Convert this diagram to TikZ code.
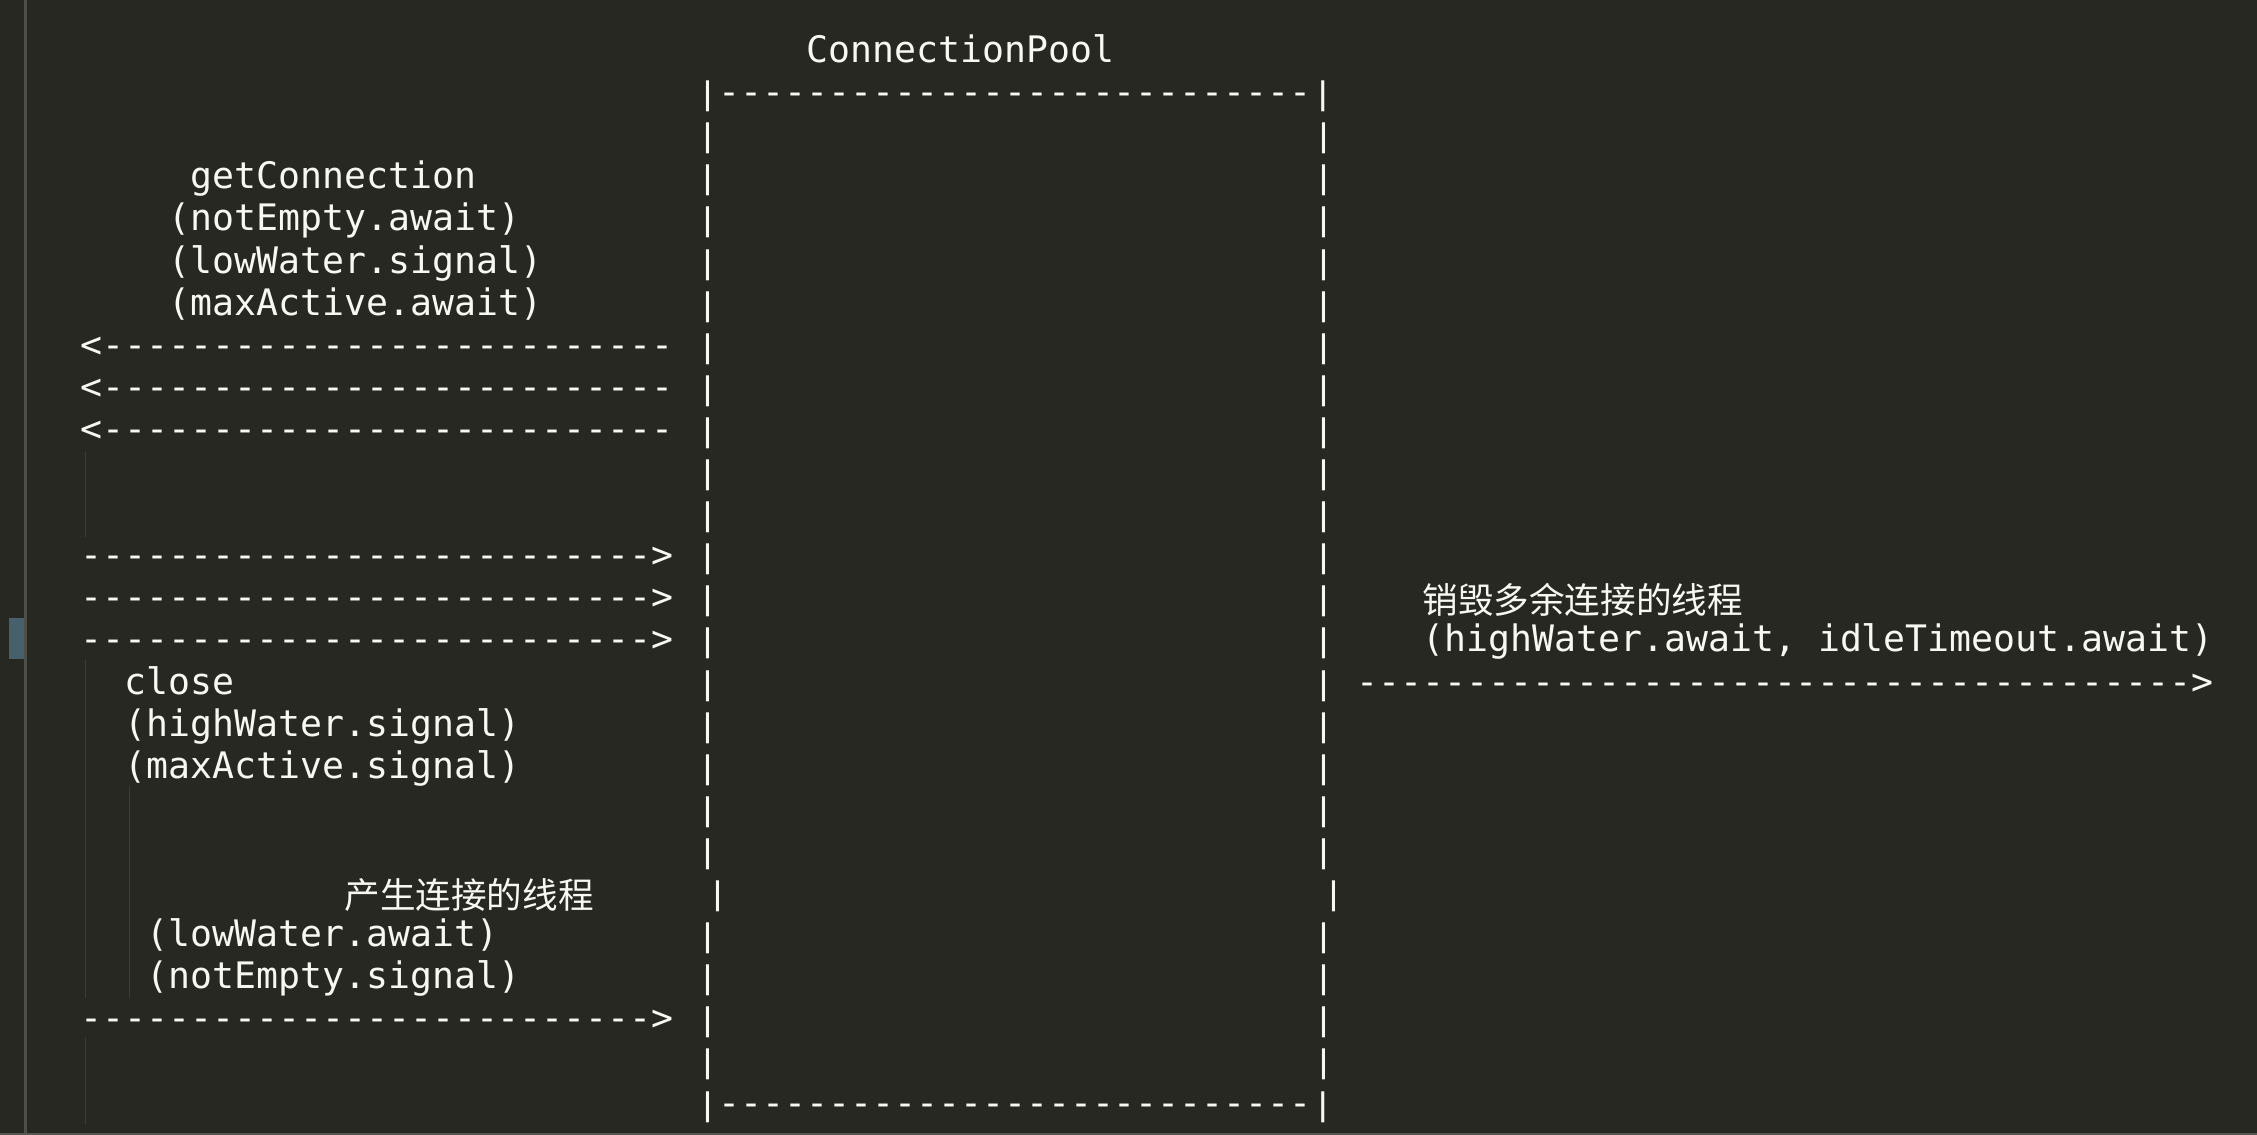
\documentclass[tikz,border=0pt]{standalone}
\usepackage{fontspec}
\setmonofont{DejaVu Sans Mono}
\newfontfamily\cjk[Scale=0.975]{Noto Sans CJK SC}
\usepackage{graphicx}
\usepackage{xcolor}
\usepackage{tikz}
\usetikzlibrary{positioning}

\definecolor{editorbg}{HTML}{272822}
\definecolor{ink}{HTML}{F8F8F2}
\definecolor{gutter}{HTML}{4E4F46}
\definecolor{guide}{HTML}{3B3C35}
\definecolor{marker}{HTML}{46606C}
\definecolor{statusbar}{HTML}{55564F}

% column / baseline of the character grid (1 unit = 1 px of the screenshot)
\newcommand\colx[1]{80.5+22*#1}
\newcommand\rowy[1]{62.5+42.1*#1}
\newcommand\dashrun[1]{\foreach \i in {1,...,#1}{-}}
\newcommand\vbar{\scalebox{1}[0.85]{|}}

\begin{document}
\begin{tikzpicture}[
  x=1pt, y=-1pt,
  ascii/.style={anchor=base west,inner sep=0pt,outer sep=0pt,text=ink,
    font=\ttfamily\fontsize{36.5}{42}\selectfont},
  cjktext/.style={ascii,font=\cjk\fontsize{36.5}{42}\selectfont,yshift=-4pt},
  guideline/.style={guide,line width=1.5pt}
]
\useasboundingbox (0,0) rectangle (2257,1135);
\fill[editorbg] (0,0) rectangle (2257,1135);

% editor chrome
\fill[gutter] (24,0) rectangle (27,1133);
\fill[marker] (9,618) rectangle (24,659);
\fill[statusbar] (0,1133) rectangle (2257,1135);
\draw[guideline] (85.5,452) -- (85.5,537);
\draw[guideline] (85.5,660) -- (85.5,998);
\draw[guideline] (129.5,786) -- (129.5,998);
\draw[guideline] (85.5,1037) -- (85.5,1124);

% the pool
\node[ascii] (title) at ({\colx{33}},{\rowy{0}}) {ConnectionPool};
\node[ascii] (pooltop) at ({\colx{28}},{\rowy{1}}) {\vbar\dashrun{27}\vbar};
\node[ascii] (poolbot) at ({\colx{28}},{\rowy{25}}) {\vbar\dashrun{27}\vbar};
\foreach \r in {2,...,19,21,22,23,24} {
  \node[ascii] (lbar\r) at ({\colx{28}},{\rowy{\r}}) {\vbar};
  \node[ascii] (rbar\r) at ({\colx{56}},{\rowy{\r}}) {\vbar};
}
\node[ascii] (lbar20) at ({\colx{28}+10},{\rowy{20}}) {\vbar};
\node[ascii] (rbar20) at ({\colx{56}+10},{\rowy{20}}) {\vbar};

% getConnection
\node[ascii] (getconn) at ({\colx{5}},{\rowy{3}}) {getConnection};
\node[ascii] (getwait) at ({\colx{4}},{\rowy{4}}) {(notEmpty.await)};
\node[ascii] (getlow) at ({\colx{4}},{\rowy{5}}) {(lowWater.signal)};
\node[ascii] (getmax) at ({\colx{4}},{\rowy{6}}) {(maxActive.await)};
\foreach \r in {7,8,9}
  \node[ascii] (getarrow\r) at ({\colx{0}},{\rowy{\r}}) {<\dashrun{26}};

% close
\foreach \r in {12,13,14}
  \node[ascii] (closearrow\r) at ({\colx{0}},{\rowy{\r}}) {\dashrun{26}>};
\node[ascii] (close) at ({\colx{2}},{\rowy{15}}) {close};
\node[ascii] (closehigh) at ({\colx{2}},{\rowy{16}}) {(highWater.signal)};
\node[ascii] (closemax) at ({\colx{2}},{\rowy{17}}) {(maxActive.signal)};

% creator thread
\node[cjktext] (creator) at ({\colx{12}},{\rowy{20}}) {产生连接的线程};
\node[ascii] (createlow) at ({\colx{3}},{\rowy{21}}) {(lowWater.await)};
\node[ascii] (createnotempty) at ({\colx{3}},{\rowy{22}}) {(notEmpty.signal)};
\node[ascii] (createarrow) at ({\colx{0}},{\rowy{23}}) {\dashrun{26}>};

% destroyer thread
\node[cjktext] (destroyer) at ({\colx{61}},{\rowy{13}}) {销毁多余连接的线程};
\node[ascii] (destroywait) at ({\colx{61}},{\rowy{14}}) {(highWater.await, idleTimeout.await)};
\node[ascii] (destroyarrow) at ({\colx{58}},{\rowy{15}}) {\dashrun{38}>};
\end{tikzpicture}
\end{document}
